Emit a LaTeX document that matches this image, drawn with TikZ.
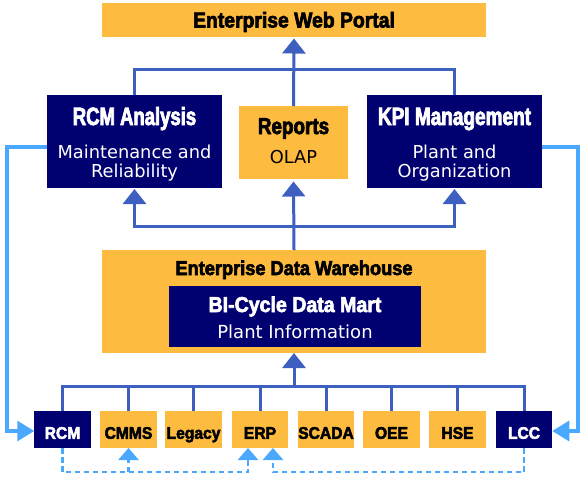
\documentclass[tikz,border=0pt]{standalone}
\usepackage{fontspec}
\setmainfont{Liberation Sans}
\newfontfamily\headfont[FakeBold=3]{Liberation Sans}
\newfontfamily\subfont{DejaVu Sans}
\usetikzlibrary{arrows.meta}

\definecolor{gold}{HTML}{FDBB40}
\definecolor{navy}{HTML}{000070}
\definecolor{linkblue}{HTML}{3D60C0}
\definecolor{feedblue}{HTML}{4AA8FF}

% heading text: #1 stretch, #2 size, #3 text
\newcommand\hd[3]{\headfont\bfseries\fontsize{#2}{#2}\selectfont\addfontfeatures{FakeStretch=#1}#3}
% secondary text: #1 size, #2 text
\newcommand\sbt[2]{\subfont\fontsize{#1}{#1}\selectfont #2}

\tikzset{
  goldbox/.style={fill=gold, draw=none, inner sep=0pt, outer sep=0pt},
  navybox/.style={fill=navy, draw=none, inner sep=0pt, outer sep=0pt},
  tx/.style={inner sep=0pt, outer sep=0pt, anchor=base},
  link/.style={draw=linkblue, line width=3pt},
  feed/.style={draw=feedblue, line width=3.2pt},
  dashline/.style={draw=feedblue, line width=2.9pt, dash pattern=on 5.5pt off 3.5pt},
  uptip/.style={-{Triangle[width=23pt,length=15pt]}},
  feedtip/.style={-{Triangle[width=20pt,length=17pt]}},
  smalltip/.style={-{Triangle[width=20pt,length=12pt]}},
}

\begin{document}
\begin{tikzpicture}[x=1pt,y=-1pt]
\useasboundingbox (0,0) rectangle (580,479);

% ---- top row ----
\node[goldbox, minimum width=384pt, minimum height=34pt] (portal) at (294,20) {};
\node[tx, text=black] (portalT) at (294,27.5) {\hd{0.9}{21.5}{Enterprise Web Portal}};

% ---- middle row ----
\node[navybox, minimum width=175pt, minimum height=93pt] (rcma) at (134.5,141.5) {};
\node[goldbox, minimum width=109pt, minimum height=73pt] (reports) at (293.5,142.5) {};
\node[navybox, minimum width=175pt, minimum height=93pt] (kpi) at (454.5,141.5) {};

\node[tx, text=white] (rcmaT) at (134.5,125) {\hd{0.74}{25}{RCM Analysis}};
\node[tx, text=white] (rcmaS1) at (134.5,158) {\sbt{17.8}{Maintenance and}};
\node[tx, text=white] (rcmaS2) at (134.5,177) {\sbt{17.8}{Reliability}};

\node[tx, text=black] (reportsT) at (293.5,134) {\hd{0.82}{23}{Reports}};
\node[tx, text=black] (reportsS) at (293.5,163.5) {\sbt{17.8}{OLAP}};

\node[tx, text=white] (kpiT) at (454.5,125) {\hd{0.76}{25}{KPI Management}};
\node[tx, text=white] (kpiS1) at (454.5,158) {\sbt{17.8}{Plant and}};
\node[tx, text=white] (kpiS2) at (454.5,177) {\sbt{17.8}{Organization}};

% ---- warehouse ----
\node[goldbox, minimum width=384pt, minimum height=103pt] (edw) at (294,301.5) {};
\node[tx, text=black] (edwT) at (294,275) {\hd{0.91}{20}{Enterprise Data Warehouse}};
\node[navybox, minimum width=252pt, minimum height=61pt] (bim) at (295,316.5) {};
\node[tx, text=white] (bimT) at (295,312) {\hd{0.91}{21.5}{BI-Cycle Data Mart}};
\node[tx, text=white] (bimS) at (295,338) {\sbt{18}{Plant Information}};

% ---- source systems ----
\foreach \n/\x/\s/\t/\lab in {
    rcm/62.5/navybox/white/RCM,
    cmms/128.5/goldbox/black/CMMS,
    legacy/193.5/goldbox/black/Legacy,
    erp/260/goldbox/black/ERP,
    scada/326/goldbox/black/SCADA,
    oee/391.5/goldbox/black/OEE,
    hse/457.5/goldbox/black/HSE,
    lcc/524/navybox/white/LCC} {
  \node[\s, minimum width=56.5pt, minimum height=37pt] (\n) at (\x,429.5) {};
  \node[tx, text=\t] (\n T) at (\x,438.8) {\hd{0.93}{16.8}{\lab}};
}

% ---- connectors: portal level ----
\draw[link, uptip, shorten >=1.5pt] (reports.north) -- (portal.south);
\draw[link] (rcma.north) -- ++(0,-26) -| (kpi.north);

% ---- connectors: warehouse to applications ----
\coordinate (appbus) at (294,226);
\draw[link, uptip, shorten >=2.5pt] (edw.north) -- (reports.south);
\draw[link, uptip, shorten >=1pt] (appbus) -| (rcma.south);
\draw[link, uptip, shorten >=1pt] (appbus) -| (kpi.south);

% ---- connectors: sources to warehouse ----
\coordinate (srcbus) at (294,386);
\draw[link, uptip] (srcbus) -- (edw.south);
\draw[link] (rcm.north) |- (srcbus) -| (lcc.north);
\foreach \n in {cmms,legacy,erp,scada,oee,hse}
  \draw[link] (\n.north) -- (\n.north |- srcbus);

% ---- feedback loops ----
\draw[feed, feedtip] ([yshift=-5.5pt]rcma.west) -- ++(-40,0) |- ([yshift=-1.5pt]rcm.west);
\draw[feed, feedtip] ([yshift=-5.5pt]kpi.east) -- ++(36,0) |- ([yshift=-1.5pt]lcc.east);

% ---- dashed exchanges ----
\coordinate (dashrow) at (294,472);
\draw[dashline, smalltip] (rcm.south) -- (rcm.south |- dashrow) -| ([xshift=-12pt]erp.south);
\draw[dashline, smalltip] (cmms.south |- dashrow) -- (cmms.south);
\draw[dashline, smalltip] (lcc.south) -- (lcc.south |- dashrow) -| ([xshift=13pt]erp.south);
\end{tikzpicture}
\end{document}
